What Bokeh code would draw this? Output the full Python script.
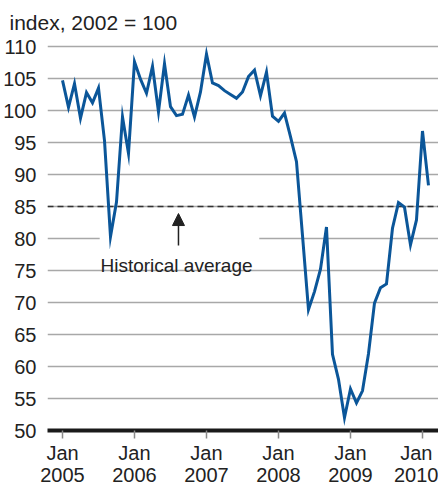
import pandas as pd
from bokeh.plotting import figure
from bokeh.models import Span, FixedTicker, Range1d, Arrow, NormalHead, Label
from bokeh.embed import file_html
from bokeh.resources import INLINE

# ---- data ----
months = pd.date_range("2005-01-01", periods=62, freq="MS")
index_values = [
    104.7, 100.5, 104.2, 98.8, 102.8, 101.2, 103.5, 95.3, 80.3, 85.7, 99.0, 93.3,    # 2005
    107.6, 104.9, 102.7, 106.9, 99.8, 107.3, 100.6, 99.2, 99.4, 102.4, 99.0, 102.9,   # 2006
    108.8, 104.3, 103.9, 103.1, 102.5, 101.9, 102.9, 105.3, 106.3, 102.3, 106.0, 99.1,  # 2007
    98.3, 99.6, 95.9, 92.0, 80.5, 68.9, 71.7, 75.2, 81.8, 61.9, 58.0, 52.0,           # 2008
    56.5, 54.3, 56.2, 62.0, 69.9, 72.3, 72.9, 81.6, 85.6, 84.9, 79.0, 82.9,           # 2009
    96.8, 88.3,                                                                      # 2010
]
historical_average = 85
y_ticks = [50, 55, 60, 65, 70, 75, 80, 85, 90, 95, 100, 105, 110]
tick_years = [2005, 2006, 2007, 2008, 2009, 2010]
tick_labels = ["Jan\n2005", "Jan\n2006", "Jan\n2007", "Jan\n2008", "Jan\n2009", "Jan\n2010"]
title_text = "index, 2002 = 100"
annotation_text = "Historical average"

# month index positions (months since Jan 2005)
x = [(d.year - 2005) * 12 + d.month - 1 for d in months]
x_ticks = [(yr - 2005) * 12 for yr in tick_years]

FONT = "Liberation Sans"
TXT = "#222222"

p = figure(frame_width=391, frame_height=388, output_backend="svg", toolbar_location=None,
           x_range=Range1d(-2.5, 62.67), y_range=Range1d(50, 110.625),
           min_border_left=39, min_border_right=0, min_border_top=36, min_border_bottom=0)
p.outline_line_color = None
p.background_fill_color = "white"
p.border_fill_color = "white"

p.title.text = title_text
p.title.text_font = FONT
p.title.text_font_size = "21px"
p.title.text_font_style = "normal"
p.title.text_color = TXT
p.title.align = "left"
p.title.offset = -38
p.title.standoff = 17

# y axis
p.yaxis.ticker = FixedTicker(ticks=y_ticks)
p.yaxis.axis_line_color = None
p.yaxis.major_tick_line_color = None
p.yaxis.minor_tick_line_color = None
p.yaxis.major_label_standoff = 5
p.yaxis.major_label_text_font = FONT
p.yaxis.major_label_text_font_size = "20px"
p.yaxis.major_label_text_color = TXT

# x axis
p.xaxis.ticker = FixedTicker(ticks=x_ticks)
p.xaxis.major_label_overrides = {t: l for t, l in zip(x_ticks, tick_labels)}
p.xaxis.axis_line_color = "#1a1a1a"
p.xaxis.axis_line_width = 4
p.xaxis.major_tick_in = 0
p.xaxis.major_tick_out = 8
p.xaxis.major_tick_line_color = "#8a8a8a"
p.xaxis.major_tick_line_width = 1.5
p.xaxis.minor_tick_line_color = None
p.xaxis.major_label_standoff = 3
p.xaxis.major_label_text_font = FONT
p.xaxis.major_label_text_font_size = "20px"
p.xaxis.major_label_text_line_height = 1.0
p.xaxis.major_label_text_color = TXT

p.xgrid.grid_line_color = None
p.ygrid.ticker = FixedTicker(ticks=y_ticks)
p.ygrid.grid_line_color = "#a8a8a8"
p.ygrid.grid_line_width = 1.6

# white box behind the annotation text (hides gridline)
p.quad(left=6.2, right=32.8, bottom=78.0, top=81.3, fill_color="white", line_color=None)

# historical average
p.add_layout(Span(location=historical_average, dimension="width", line_color="#333333",
                  line_dash="6 4", line_width=1.5, level="underlay"))

# series
p.line(x, index_values, line_color="#0b5699", line_width=3, line_join="miter")

p.add_layout(Arrow(end=NormalHead(size=12, fill_color=TXT, line_color=TXT),
                   x_start=19.33, y_start=78.9, x_end=19.33, y_end=83.9,
                   line_color=TXT, line_width=1.5))
p.add_layout(Label(x=19.0, y=75.8, text=annotation_text, text_align="center",
                   text_baseline="alphabetic", text_font=FONT, text_font_size="19px",
                   text_color=TXT))

open("out.html", "w").write(file_html(p, INLINE))
